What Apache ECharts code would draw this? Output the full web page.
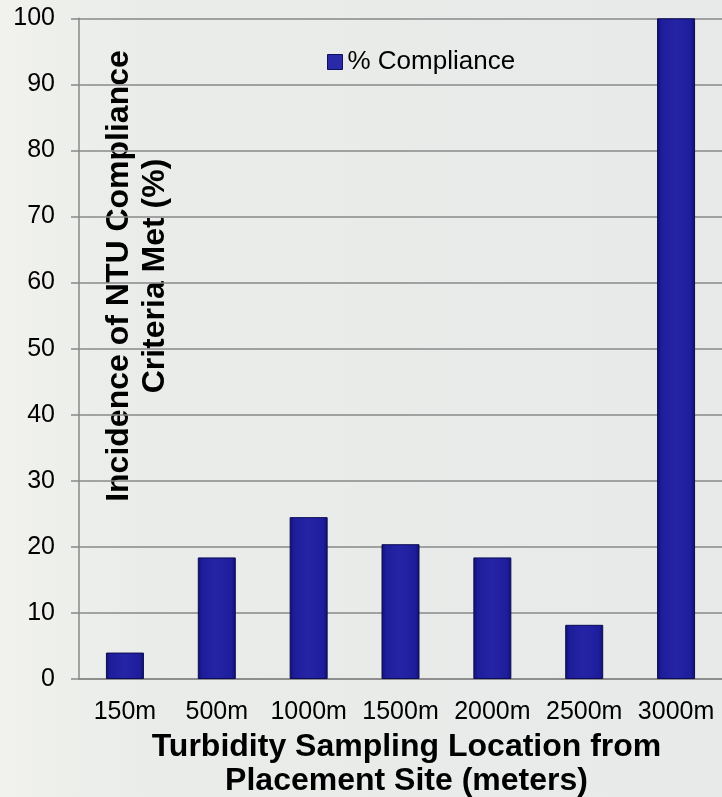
<!DOCTYPE html>
<html>
<head>
<meta charset="utf-8">
<script src="https://cdn.jsdelivr.net/npm/echarts@6/dist/echarts.min.js"></script>
<style>html,body{margin:0;padding:0;}#c{width:722px;height:797px;}</style>
</head>
<body>
<div id="c"></div>
<script>
var categories = ['150m', '500m', '1000m', '1500m', '2000m', '2500m', '3000m'];
var compliance = [4.0, 18.4, 24.5, 20.4, 18.4, 8.2, 100];
var seriesName = '% Compliance';
var xTitle = 'Turbidity Sampling Location from\nPlacement Site (meters)';
var yTitle = 'Incidence of NTU Compliance\nCriteria Met (%)';

var chart = echarts.init(document.getElementById('c'));
var barColor = {
  type: 'linear', x: 0, y: 0, x2: 1, y2: 0,
  colorStops: [
    {offset: 0, color: '#101070'},
    {offset: 0.12, color: '#1e1e9c'},
    {offset: 0.5, color: '#2424a6'},
    {offset: 0.88, color: '#1e1e9c'},
    {offset: 1, color: '#101070'}
  ]
};
chart.setOption({
  backgroundColor: {
    type: 'linear', x: 0, y: 0, x2: 1, y2: 0,
    colorStops: [{offset: 0, color: '#f1f2ee'}, {offset: 0.2, color: '#e9ece9'}, {offset: 1, color: '#e7eae8'}]
  },
  textStyle: {fontFamily: 'Liberation Sans, Arial, sans-serif'},
  grid: {left: 79, right: 0, top: 18.3, bottom: 118, containLabel: false, outerBoundsMode: 'none'},
  legend: {
    left: 327, top: 49, padding: 0,
    itemWidth: 15, itemHeight: 15, itemGap: 10,
    icon: 'rect',
    textStyle: {fontSize: 26, color: '#000'},
    data: [{name: seriesName, itemStyle: {color: '#2a2aa8', borderColor: '#101060', borderWidth: 1}}]
  },
  xAxis: {
    type: 'category',
    data: categories,
    axisLine: {lineStyle: {color: '#888', width: 1.5}},
    axisTick: {show: false},
    axisLabel: {fontSize: 25, color: '#000', margin: 21, interval: 0},
    name: xTitle,
    nameLocation: 'middle',
    nameGap: 48,
    nameTextStyle: {fontSize: 32, fontWeight: 'bold', color: '#000', lineHeight: 34, padding: [0, 0, 0, 12]}
  },
  yAxis: {
    type: 'value',
    min: 0, max: 100, interval: 10,
    axisLine: {show: true, lineStyle: {color: '#888', width: 1.5}},
    axisTick: {show: true, length: 8, lineStyle: {color: '#888', width: 1.5}},
    axisLabel: {fontSize: 25, color: '#000', margin: 24},
    splitLine: {lineStyle: {color: '#888', width: 1.5}}
  },
  graphic: [{
    type: 'text',
    x: 137, y: 276,
    rotation: Math.PI / 2,
    style: {
      text: yTitle,
      fontSize: 32, fontWeight: 'bold', fill: '#000',
      fontFamily: 'Liberation Sans, Arial, sans-serif',
      align: 'center', verticalAlign: 'middle', lineHeight: 36
    }
  }],
  series: [{
    name: seriesName,
    type: 'bar',
    data: compliance,
    barWidth: 38,
    itemStyle: {color: barColor, borderColor: '#0c0c55', borderWidth: 1},
    animation: false
  }],
  animation: false
});
</script>
</body>
</html>
